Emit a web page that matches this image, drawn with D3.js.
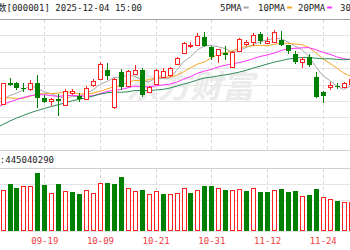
<!DOCTYPE html>
<html>
<head>
<meta charset="utf-8">
<script src="https://cdn.jsdelivr.net/npm/d3@7"></script>
<style>
body { margin: 0; background: #fff; }
svg { display: block; }
text { font-family: "DejaVu Sans Mono", "Noto Sans CJK SC", monospace; }
</style>
</head>
<body>
<div id="vis"></div>
<script>
// daily K-line, 上证指数, 09-10 .. 11-28 (chart is cropped at both sides)
var dates = ['09-10','09-11','09-12','09-15','09-16','09-17','09-18','09-19','09-22','09-23','09-24','09-25','09-26','09-29','09-30',
    '10-09','10-10','10-13','10-14','10-15','10-16','10-17','10-20','10-21','10-22','10-23','10-24','10-27','10-28','10-29','10-30','10-31',
    '11-03','11-04','11-05','11-06','11-07','11-10','11-11','11-12','11-13','11-14','11-17','11-18','11-19','11-20','11-21','11-24','11-25','11-26','11-27','11-28'];

var opens = [3807,3813,3877,3877,3862,3859,3877,3830,3822,3828,3810,3846,3836,3829,3870,
    3889,3916,3805,3910,3867,3904,3914,3849,3873,3894,3900,3932,3964,3985,3990,4013,3983,
    3958,3966,3925,3970,3993,3997,4022,3995,3998,4005,3989,3963,3938,3954,3895,3850,3864,3867,3864,3874];
var highs = [3826,3876,3891,3880,3876,3884,3900,3840,3830,3843,3858,3857,3846,3868,3888,
    3940,3936,3891,3918,3914,3931,3922,3868,3917,3920,3925,3953,3999,3998,4025,4028,3986,
    3977,3987,3972,4011,4003,4026,4027,4012,4035,4032,3990,3972,3952,3962,3910,3853,3878,3876,3880,3891];
var lows = [3802,3811,3866,3855,3848,3851,3800,3815,3807,3776,3806,3839,3820,3825,3863,
    3885,3885,3798,3855,3863,3899,3834,3846,3870,3890,3895,3930,3962,3980,3985,3983,3944,
    3937,3945,3921,3968,3985,3987,3991,3993,3995,3985,3961,3934,3922,3925,3830,3817,3856,3858,3860,3870];
var closes = [3812,3875,3870,3860,3861,3876,3831,3820,3828,3821,3853,3853,3828,3862,3882,
    3933,3897,3889,3865,3912,3916,3839,3863,3916,3913,3922,3950,3996,3988,4016,3986,3954,
    3976,3960,3969,4007,3997,4018,4002,4000,4029,3990,3972,3940,3946,3931,3835,3836,3870,3864,3876,3888];

// volume, 亿手
var volumes = [6.8,6.07,6.91,6.32,6.66,6.66,8.63,6.76,5.58,7.00,5.88,5.82,5.43,6.07,5.62,
    7.10,7.15,7.00,7.99,6.36,5.92,6.07,5.43,5.92,5.43,5.48,5.67,6.32,5.67,6.07,6.62,6.70,
    6.32,6.07,6.07,6.17,5.92,6.32,5.82,5.82,6.07,6.22,5.82,5.92,5.22,5.28,6.22,5.03,4.69,4.44,4.34,4.34];

var ma5 = [3804.6,3826.4,3838.0,3844.8,3855.6,3868.4,3859.6,3849.6,3843.2,3835.2,3830.6,3835.0,3836.6,3843.4,3855.6,
    3871.6,3880.4,3892.6,3893.2,3899.2,3895.8,3884.2,3879.0,3889.2,3889.4,3890.6,3912.8,3939.4,3953.8,3974.4,3987.2,3988.0,
    3984.0,3978.4,3969.0,3973.2,3981.8,3990.2,3998.6,4004.8,4009.2,4007.8,3998.6,3986.2,3975.4,3955.8,3924.8,3897.6,3883.6,3867.2,3856.2,3866.8];
var ma10 = [3826.9,3830.1,3831.4,3829.9,3830.2,3836.5,3843.0,3843.8,3844.0,3845.4,3849.5,3847.3,3843.1,3843.3,3845.4,
    3851.1,3857.7,3864.6,3868.3,3877.4,3883.7,3882.3,3885.8,3891.2,3894.3,3893.2,3898.5,3909.2,3921.5,3931.9,3938.9,3950.4,
    3961.7,3966.1,3971.7,3980.2,3984.9,3987.1,3988.5,3986.9,3991.2,3994.8,3994.4,3992.4,3990.1,3982.5,3966.3,3948.1,3934.9,3921.3,3906.0,3895.8];
var ma20 = [3800.0,3810.5,3819.1,3825.7,3832.4,3837.9,3840.9,3840.7,3837.9,3835.6,3838.2,3838.7,3837.3,3836.6,3837.8,
    3843.8,3850.4,3854.2,3856.2,3861.4,3866.6,3864.8,3864.5,3867.3,3869.9,3872.2,3878.1,3886.9,3894.9,3904.7,3911.3,3916.4,
    3923.8,3928.7,3933.0,3936.7,3941.7,3948.2,3955.0,3959.4,3965.1,3972.6,3978.1,3979.3,3980.9,3981.4,3975.6,3967.6,3961.7,3954.1,3948.6,3945.3];
var ma30 = [3741.2,3751.3,3761.6,3770.8,3779.0,3787.0,3793.4,3799.6,3805.6,3810.8,3816.5,3822.7,3827.1,3831.6,3836.7,
    3842.3,3846.5,3848.6,3848.0,3849.5,3853.4,3853.2,3853.4,3854.8,3856.6,3860.3,3866.4,3872.5,3877.9,3884.9,3890.7,3893.3,
    3896.9,3900.2,3903.8,3908.2,3913.7,3920.3,3926.1,3932.1,3937.9,3942.5,3947.3,3949.9,3952.0,3952.0,3949.9,3948.1,3948.3,3946.7,3945.4,3947.0];

var xTicks = ['09-19','10-09','10-21','10-31','11-12','11-24'];
var priceTicks = [3675,3724,3773,3822,3871,3920,3969,4018,4067];
var volTicks = [0,2.33,4.66,6.99,9.32];

var maNames = ['5PMA','10PMA','20PMA','30PMA'];
var maColors = ['#a8a8a8','#f5a623','#ff33ff','#2e8b57'];

var width = 350,
    height = 250;

var svg = d3.select('#vis')
    .append('svg')
    .attr('width', width)
    .attr('height', height);

var x = d3.scalePoint()
    .domain(dates)
    .range([-4.42, 350.54]);

var y = d3.scaleLinear()
    .domain([3675, 4067])
    .range([150.2, 19]);

var yVol = d3.scaleLinear()
    .domain([0, 9.32])
    .range([231, 168]);

function px(v) {
    return Math.round(v) + 0.5;
}

// grid
svg.append('g')
    .selectAll('line')
    .data(priceTicks)
    .enter()
    .append('line')
    .attr('x1', 0)
    .attr('x2', width)
    .attr('y1', function(d) { return px(y(d)); })
    .attr('y2', function(d) { return px(y(d)); })
    .attr('stroke', function(d, i) {
        return i === priceTicks.length - 1 ? '#a0a0a0' : (i === 0 ? '#cfcfcf' : '#e4e4e4');
    });

svg.append('g')
    .selectAll('line')
    .data(volTicks)
    .enter()
    .append('line')
    .attr('x1', 0)
    .attr('x2', width)
    .attr('y1', function(d) { return px(yVol(d)); })
    .attr('y2', function(d) { return px(yVol(d)); })
    .attr('stroke', function(d, i) { return i === volTicks.length - 1 ? '#cfcfcf' : '#e4e4e4'; });

var vgrid = svg.append('g')
    .attr('stroke', '#d6d6d6')
    .attr('stroke-dasharray', '3,3');

vgrid.selectAll('.vtop')
    .data(xTicks)
    .enter()
    .append('line')
    .attr('x1', function(d) { return px(x(d)); })
    .attr('x2', function(d) { return px(x(d)); })
    .attr('y1', 20)
    .attr('y2', 150);

vgrid.selectAll('.vbot')
    .data(xTicks)
    .enter()
    .append('line')
    .attr('x1', function(d) { return px(x(d)); })
    .attr('x2', function(d) { return px(x(d)); })
    .attr('y1', 169)
    .attr('y2', 231);

// watermark
svg.append('text')
    .attr('x', 190)
    .attr('y', 98)
    .attr('text-anchor', 'middle')
    .style('font-family', '"Noto Sans CJK SC"')
    .style('font-size', '32px')
    .style('font-weight', 'bold')
    .style('font-style', 'italic')
    .attr('fill', '#ebebeb')
    .text('东方财富');

var chart = svg.append('g');

// moving averages
[ma5, ma10, ma20, ma30].forEach(function(series, k) {
    var line = d3.line()
        .x(function(d, i) { return x(dates[i]); })
        .y(function(d) { return y(d); });
    chart.append('path')
        .datum(series)
        .attr('fill', 'none')
        .attr('stroke', maColors[k])
        .attr('stroke-width', 1)
        .attr('d', line);
});

// candles
var idx = d3.range(dates.length);

var candles = chart.selectAll('.candle')
    .data(idx)
    .enter()
    .append('g')
    .attr('class', 'candle');

candles.append('line')
    .attr('x1', function(i) { return Math.round(x(dates[i])) + 0.5; })
    .attr('x2', function(i) { return Math.round(x(dates[i])) + 0.5; })
    .attr('y1', function(i) { return Math.round(y(highs[i])); })
    .attr('y2', function(i) { return Math.round(y(lows[i])); })
    .attr('stroke', function(i) { return closes[i] > opens[i] ? '#ff2020' : '#008000'; });

candles.append('rect')
    .each(function(i) {
        var cx = Math.round(x(dates[i]));
        var top = Math.round(y(Math.max(opens[i], closes[i])));
        var bot = Math.round(y(Math.min(opens[i], closes[i])));
        var up = closes[i] > opens[i];
        var r = d3.select(this);
        if (up) {
            r.attr('x', cx - 1.5)
                .attr('y', top + 0.5)
                .attr('width', 4)
                .attr('height', Math.max(bot - top, 1))
                .attr('fill', '#fff')
                .attr('stroke', '#ff2020');
        } else {
            r.attr('x', cx - 2)
                .attr('y', top)
                .attr('width', 5)
                .attr('height', Math.max(bot - top, 1))
                .attr('fill', '#008000');
        }
    });

// volume bars (colour by close vs previous close)
chart.selectAll('.vol')
    .data(idx)
    .enter()
    .append('rect')
    .attr('class', 'vol')
    .each(function(i) {
        var cx = Math.round(x(dates[i]));
        var top = Math.round(yVol(volumes[i]));
        var prev = i > 0 ? closes[i - 1] : opens[i];
        var up = closes[i] > prev;
        var r = d3.select(this);
        if (up) {
            r.attr('x', cx - 1.5)
                .attr('y', top + 0.5)
                .attr('width', 4)
                .attr('height', 231 - top - 1)
                .attr('fill', '#fff')
                .attr('stroke', '#ff2020');
        } else {
            r.attr('x', cx - 2)
                .attr('y', top)
                .attr('width', 5)
                .attr('height', 231 - top)
                .attr('fill', '#008000');
        }
    });

// x axis labels
var xAxis = svg.append('g')
    .attr('transform', 'translate(0,233)')
    .call(d3.axisBottom(x).tickValues(xTicks).tickSize(0).tickPadding(5));
xAxis.select('.domain').remove();
xAxis.selectAll('text')
    .style('font-size', '9px')
    .style('font-family', '"DejaVu Sans Mono", monospace')
    .attr('fill', '#f03c3c');

// header
svg.append('text')
    .attr('x', 142)
    .attr('y', 11)
    .attr('text-anchor', 'end')
    .style('font-size', '9px')
    .attr('fill', '#222')
    .text('上证指数[000001] 2025-12-04 15:00');

var legendX = [220, 258, 298, 340];
maNames.forEach(function(name, k) {
    var t = svg.append('text')
        .attr('x', legendX[k])
        .attr('y', 11)
        .style('font-size', '9px')
        .attr('fill', '#222')
        .text(name);
    var w = t.node().getComputedTextLength();
    svg.append('rect')
        .attr('x', legendX[k] + w + 2)
        .attr('y', 6.5)
        .attr('width', 5)
        .attr('height', 2)
        .attr('fill', maColors[k]);
});

svg.append('text')
    .attr('x', 54)
    .attr('y', 163)
    .attr('text-anchor', 'end')
    .style('font-size', '9px')
    .attr('fill', '#222')
    .text('成交量:445040290');
</script>
</body>
</html>
